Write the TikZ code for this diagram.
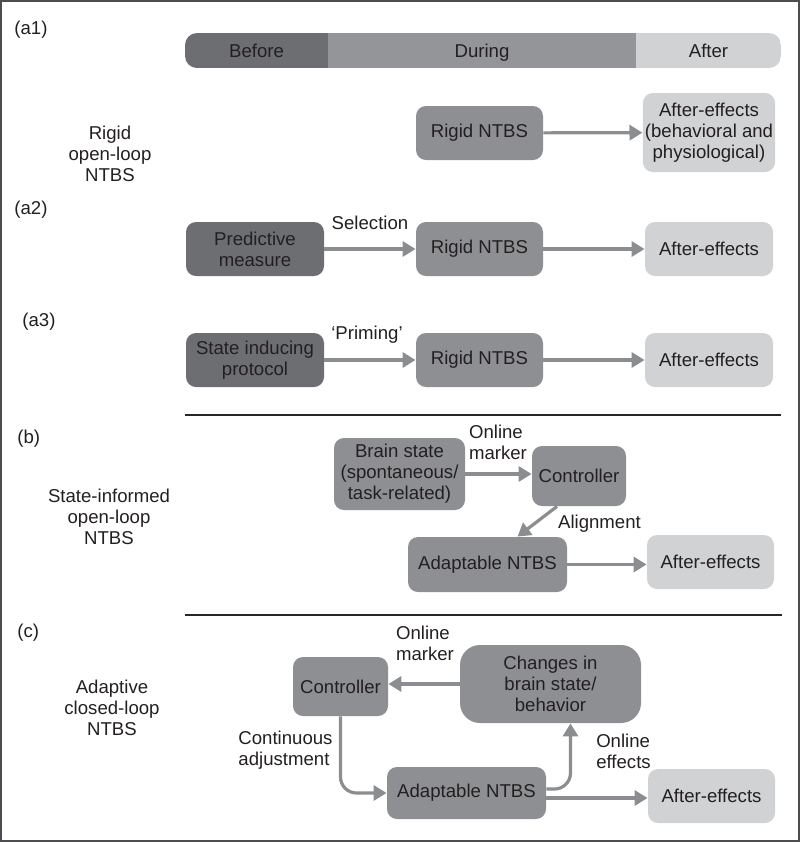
\documentclass[tikz,border=0pt]{standalone}
\usepackage{fontspec}
\setmainfont{Liberation Sans}
\usetikzlibrary{arrows.meta, positioning}

\definecolor{darkfill}{HTML}{6D6E71}
\definecolor{midfill}{HTML}{8E8F92}
\definecolor{barmid}{HTML}{939598}
\definecolor{lightfill}{HTML}{D1D2D4}
\definecolor{arrowgray}{HTML}{8C8D90}
\definecolor{textdark}{HTML}{231F20}
\definecolor{framegray}{HTML}{4D4D4F}

\begin{document}
\begin{tikzpicture}[
  x=0.5pt, y=-0.5pt,
  every node/.style={font=\fontsize{9.3}{10.5}\selectfont, text=textdark},
  box/.style={rounded corners=5pt, align=center, inner sep=1pt, minimum height=27pt},
  darkbox/.style={box, fill=darkfill},
  midbox/.style={box, fill=midfill},
  lightbox/.style={box, fill=lightfill},
  barseg/.style={minimum height=17.5pt, inner sep=0pt, text height=1.6ex, text depth=0.35ex},
  arrow/.style={-{Triangle[length=6.5pt, width=7.5pt]}, line width=1.6pt, draw=arrowgray},
  note/.style={align=left, inner sep=0pt},
  tagtext/.style={anchor=west, inner sep=0pt},
  sidelabel/.style={align=center, inner sep=0pt},
  divider/.style={line width=0.8pt, draw=black!85}
]
\useasboundingbox (0,0) rectangle (800,842);
\draw[framegray, line width=1pt] (1,1) rectangle (799,841);

% Time bar
\begin{scope}
  \clip[rounded corners=6pt] (185,33) rectangle (781,68);
  \node[barseg, fill=darkfill, minimum width=71.5pt] (before) at (256.5,50.5) {Before};
  \node[barseg, fill=barmid, minimum width=154pt] (during) at (482,50.5) {During};
  \node[barseg, fill=lightfill, minimum width=72.5pt] (after) at (708.5,50.5) {After};
\end{scope}

% Panel tags
\node[tagtext] (tagAone) at (14,30) {(a1)};
\node[tagtext] (tagAtwo) at (14,210) {(a2)};
\node[tagtext] (tagAthree) at (22,322) {(a3)};
\node[tagtext] (tagB) at (17,439) {(b)};
\node[tagtext] (tagC) at (17,633) {(c)};

% Side labels
\node[sidelabel] (rigidLbl) at (110,154) {Rigid\\open-loop\\NTBS};
\node[sidelabel] (stateLbl) at (109,517) {State-informed\\open-loop\\NTBS};
\node[sidelabel] (adaptLbl) at (112,708) {Adaptive\\closed-loop\\NTBS};

% (a1) rigid stimulation
\node[midbox, minimum width=63.5pt] (rigidA) at (479.5,133) {Rigid NTBS};
\node[lightbox, minimum width=64pt, minimum height=39.5pt] (afterA) at (709,132.5) {After-effects\\(behavioral and\\physiological)};
\draw[arrow] (rigidA) -- (afterA);

% (a2) selection
\node[darkbox, minimum width=69pt] (predB) at (255,249) {Predictive\\measure};
\node[midbox, minimum width=63.5pt] (rigidB) at (479.5,249) {Rigid NTBS};
\node[lightbox, minimum width=64pt] (afterB) at (709,249) {After-effects};
\draw[arrow] (predB) -- (rigidB);
\draw[arrow] (rigidB) -- (afterB);
\node[note] (selLbl) at (370,223) {Selection};

% (a3) priming
\node[darkbox, minimum width=69pt] (stateC) at (255,360) {State inducing\\protocol};
\node[midbox, minimum width=63.5pt] (rigidC) at (479.5,360) {Rigid NTBS};
\node[lightbox, minimum width=64pt] (afterC) at (709,360) {After-effects};
\draw[arrow] (stateC) -- (rigidC);
\draw[arrow] (rigidC) -- (afterC);
\node[note] (primLbl) at (367,335) {`Priming'};

\draw[divider] (185,415) -- (781,415);

% (b) state-informed open loop
\node[midbox, minimum width=65.5pt, minimum height=36pt] (brain) at (399.5,474) {Brain state\\(spontaneous/\\task-related)};
\node[midbox, minimum width=47pt, minimum height=30pt] (ctrlB) at (579,476) {Controller};
\node[midbox, minimum width=79.5pt, minimum height=27.5pt] (adaptB) at (487.5,564.5) {Adaptable NTBS};
\node[lightbox, minimum width=63.5pt] (afterD) at (710.5,562) {After-effects};
\draw[arrow] (brain.east) -- (brain.east -| ctrlB.west);
\draw[arrow] ([xshift=-11pt]ctrlB.south) -- ([xshift=15pt]adaptB.north);
\draw[arrow] (adaptB.east) -- (adaptB.east -| afterD.west);
\node[note] (onlineB) at (498,442) {Online\\marker};
\node[note] (alignLbl) at (599.5,524) {Alignment};

\draw[divider] (185,615) -- (782,615);

% (c) adaptive closed loop
\node[midbox, minimum width=47.5pt, minimum height=29.5pt] (ctrlC) at (340.5,686.5) {Controller};
\node[midbox, rounded corners=10pt, minimum width=90.5pt, minimum height=39pt] (changes) at (550.5,684) {Changes in\\brain state/\\behavior};
\node[midbox, minimum width=79.5pt, minimum height=26pt] (adaptC) at (466.5,793) {Adaptable NTBS};
\node[lightbox, minimum width=63.5pt] (afterE) at (711.5,796) {After-effects};
\draw[arrow] (changes.west) -- (changes.west -| ctrlC.east);
\draw[arrow, rounded corners=8pt] (ctrlC.south) |- (adaptC.west);
\draw[arrow, rounded corners=8pt] ([yshift=2pt]adaptC.east) -| ([xshift=10pt]changes.south);
\coordinate (outE) at ([yshift=-2.5pt]adaptC.east);
\draw[arrow] (outE) -- (outE -| afterE.west);
\node[note] (onlineC) at (425,643) {Online\\marker};
\node[note] (contLbl) at (285.5,750) {Continuous\\adjustment};
\node[note] (effLbl) at (623.5,751) {Online\\effects};

\end{tikzpicture}
\end{document}
